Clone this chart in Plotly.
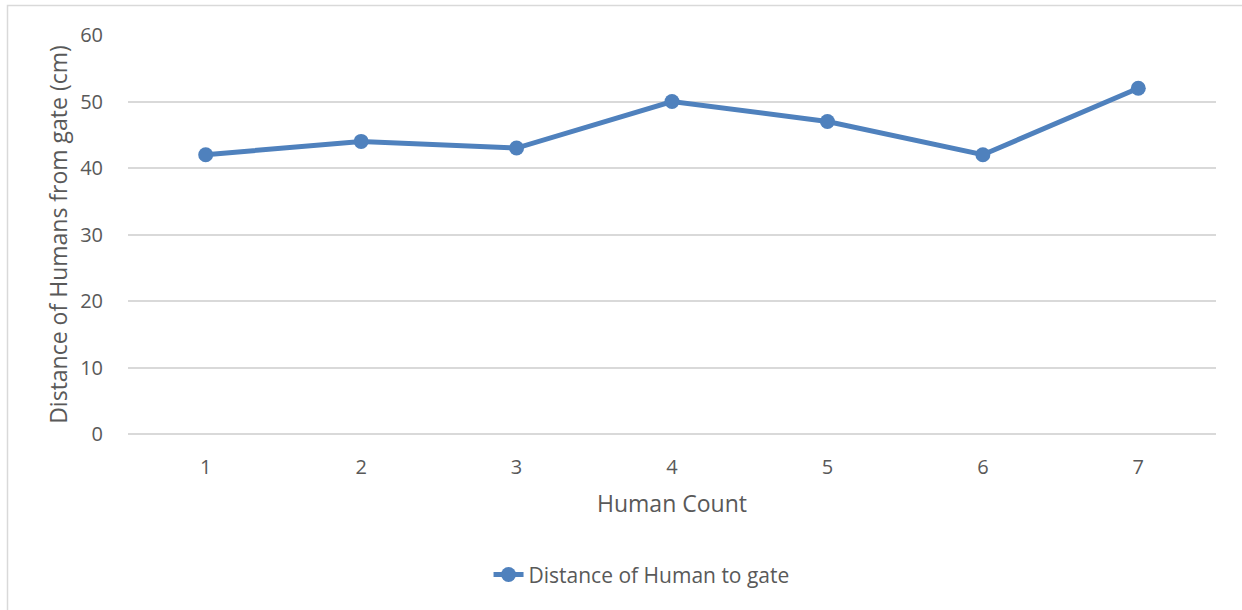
import plotly.graph_objects as go

human_count = [1, 2, 3, 4, 5, 6, 7]
distance_cm = [42, 44, 43, 50, 47, 42, 52]
y_ticks = [0, 10, 20, 30, 40, 50, 60]
series_name = "Distance of Human to gate"
x_title = "Human Count"
y_title = "Distance of Humans from gate (cm)"

W, H = 1242, 610
L, R, T, B = 128, 26, 35, 176
pw, ph = W - L - R, H - T - B

color = "#4F81BD"
font_family = "Open Sans, Liberation Sans, sans-serif"
text_color = "#595959"

fig = go.Figure()
fig.add_trace(go.Scatter(
    x=human_count, y=distance_cm, mode="lines+markers", name=series_name,
    line=dict(color=color, width=5),
    marker=dict(color=color, size=15),
))

# chart border (left & top visible)
bx = (7.5 - L) / pw
by = 1 + (T - 5.5) / ph
fig.add_shape(type="path", xref="paper", yref="paper",
              path=f"M {bx},{-(B + 10) / ph} L {bx},{by} L {1 + (R + 10) / pw},{by}",
              line=dict(color="#d9d9d9", width=1.5))

fig.update_layout(
    width=W, height=H,
    margin=dict(l=L, r=R, t=T, b=B),
    paper_bgcolor="white", plot_bgcolor="white",
    font=dict(family=font_family, color=text_color, size=20),
    showlegend=True,
    legend=dict(orientation="h", x=0.472, y=-0.353, xanchor="center", yanchor="middle",
                font=dict(size=21, color=text_color)),
    xaxis=dict(
        range=[0.5, 7.5], tickmode="array", tickvals=human_count,
        ticktext=[str(v) for v in human_count],
        showgrid=False, zeroline=False, showline=False,
        ticks="outside", tickcolor="rgba(0,0,0,0)", ticklen=15,
        title=dict(text=x_title, font=dict(size=23), standoff=16),
    ),
    yaxis=dict(
        range=[0, 60], tickmode="array", tickvals=y_ticks,
        showgrid=True, gridcolor="#d9d9d9", gridwidth=1.5,
        zeroline=True, zerolinecolor="#d9d9d9", zerolinewidth=1.5,
        showline=False,
        ticks="outside", tickcolor="rgba(0,0,0,0)", ticklen=20,
        title=dict(text=y_title, font=dict(size=23), standoff=6),
    ),
)

fig.write_html(
    "out.html",
    config={"displayModeBar": False},
    post_script="document.body.style.margin='0';document.body.style.overflow='hidden';",
)
